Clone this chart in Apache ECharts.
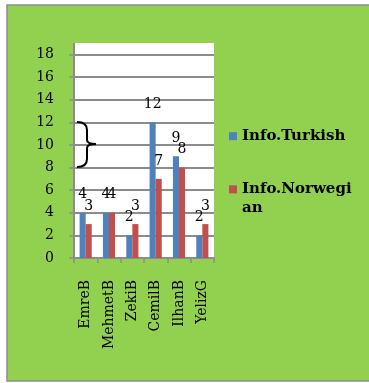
<!DOCTYPE html>
<html>
<head>
<meta charset="utf-8">
<script src="https://cdn.jsdelivr.net/npm/echarts@6/dist/echarts.min.js"></script>
<style>html,body{margin:0;padding:0;background:#fff;}#c{width:369px;height:383px;}</style>
</head>
<body>
<div id="c"></div>
<script>
var categories = ['EmreB', 'MehmetB', 'ZekiB', 'CemilB', 'IlhanB', 'YelizG'];
var turkish = [4, 4, 2, 12, 9, 2];
var norwegian = [3, 4, 3, 7, 8, 3];
var seriesNames = ['Info.Turkish', 'Info.Norwegian'];
var yTicks = [0, 2, 4, 6, 8, 10, 12, 14, 16, 18];

var serif = 'DejaVu Serif';
var chart = echarts.init(document.getElementById('c'), null, {renderer: 'canvas'});
var labelStyle = {show: true, position: 'top', distance: 11, color: '#000', fontFamily: serif, fontSize: 14};
var braceStyle = {fill: null, stroke: '#000', lineWidth: 2};
function bz(x1, y1, cx, cy, x2, y2) {
  return {type: 'bezierCurve', z: 100, shape: {x1: x1, y1: y1, cpx1: cx, cpy1: cy, x2: x2, y2: y2}, style: braceStyle};
}
function ln(x1, y1, x2, y2) {
  return {type: 'line', z: 100, shape: {x1: x1, y1: y1, x2: x2, y2: y2}, style: braceStyle};
}
chart.setOption({
  animation: false,
  backgroundColor: '#fff',
  graphic: [
    {type: 'rect', z: -10, shape: {x: 7, y: 5, width: 380, height: 376},
     style: {fill: '#92D050', stroke: '#8c8c8c', lineWidth: 1.5}},
    {type: 'rect', z: -9, shape: {x: 75, y: 43, width: 139, height: 215},
     style: {fill: '#fff'}},
    {type: 'line', z: 50, shape: {x1: 74, y1: 43, x2: 74, y2: 55},
     style: {stroke: '#8c8c8c', lineWidth: 2}},
    bz(77, 122, 87, 122, 87, 130),
    ln(87, 130, 87, 140),
    bz(87, 140, 87, 144, 96, 144),
    bz(96, 144, 87, 144, 87, 148),
    ln(87, 148, 87, 159),
    bz(87, 159, 87, 167, 77, 167)
  ],
  grid: {left: 74, right: 155, top: 54.5, bottom: 125, containLabel: false},
  legend: {
    orient: 'vertical', left: 229, top: 127, padding: 0, itemGap: 16.6,
    itemWidth: 8, itemHeight: 8, icon: 'rect',
    data: seriesNames,
    formatter: function (n) { return n === 'Info.Norwegian' ? '\nInfo.Norwegi\nan' : n; },
    textStyle: {fontFamily: serif, fontWeight: 'bold', fontSize: 15, lineHeight: 18.3, color: '#000'}
  },
  xAxis: {
    type: 'category', data: categories,
    axisLine: {lineStyle: {color: '#8c8c8c', width: 2}},
    axisTick: {show: true, length: 5, lineStyle: {color: '#8c8c8c', width: 1.5}},
    axisLabel: {rotate: 90, margin: 22, color: '#000', fontFamily: serif, fontSize: 14, interval: 0}
  },
  yAxis: {
    type: 'value', min: yTicks[0], max: yTicks[yTicks.length - 1], interval: 2,
    axisLine: {show: true, lineStyle: {color: '#8c8c8c', width: 2}},
    axisTick: {show: true, length: 5, lineStyle: {color: '#8c8c8c', width: 1.5}},
    splitLine: {lineStyle: {color: '#8c8c8c', width: 1.8}},
    axisLabel: {margin: 20, color: '#000', fontFamily: serif, fontSize: 14}
  },
  series: [
    {name: seriesNames[0], type: 'bar', data: turkish, barGap: '0%', barCategoryGap: '48%',
     itemStyle: {color: '#4F81BD'}, label: labelStyle},
    {name: seriesNames[1], type: 'bar', data: norwegian,
     itemStyle: {color: '#C0504D'}, label: labelStyle}
  ]
});
</script>
</body>
</html>
